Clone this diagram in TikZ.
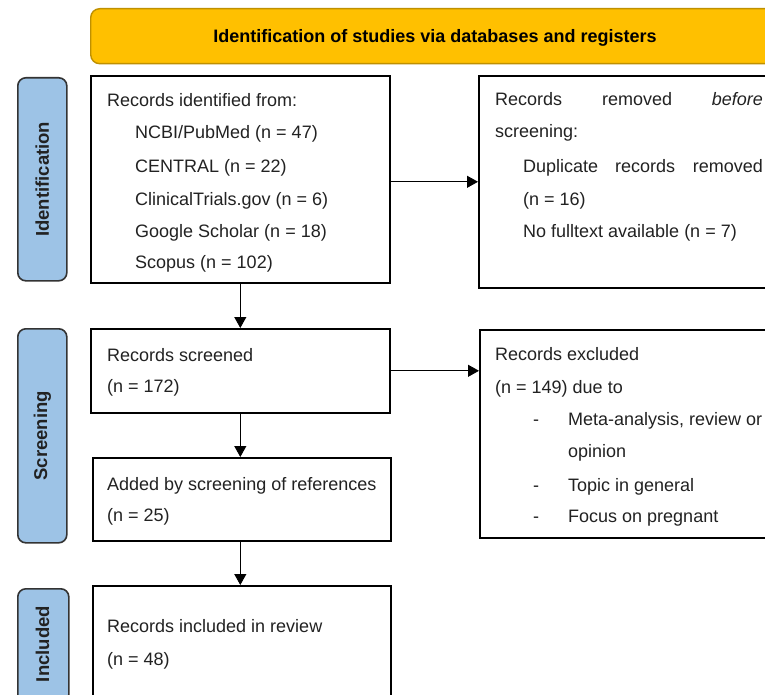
\documentclass[tikz,border=0pt]{standalone}
\usepackage{fontspec}
\setmainfont{Liberation Sans}
\usetikzlibrary{arrows.meta}
\definecolor{bannerfill}{HTML}{FFC000}
\definecolor{bannerline}{HTML}{BF9000}
\definecolor{sideblue}{HTML}{9DC3E6}
\definecolor{sideline}{HTML}{333333}
\definecolor{textgray}{HTML}{222222}
\begin{document}
\begin{tikzpicture}[x=1pt,y=-1pt,
  box/.style={draw=black, line width=1.6pt, fill=white, anchor=north west, inner sep=0pt},
  side/.style={draw=sideline, fill=sideblue, rounded corners=8pt, line width=1.6pt, anchor=north west, inner sep=0pt},
  sidetxt/.style={rotate=90, font=\fontsize{18.5}{20}\selectfont\bfseries, text=textgray, inner sep=0pt},
  txt/.style={anchor=base west, inner sep=0pt, font=\fontsize{18}{20}\selectfont, text=textgray},
  arr/.style={-{Triangle[length=11pt,width=12pt]}, line width=0.9pt, draw=black}
]
\useasboundingbox (0,0) rectangle (765,695);
\clip (0,0) rectangle (765,695);
\fill[white] (0,0) rectangle (765,695);

% banner
\node[draw=bannerline, fill=bannerfill, line width=1.4pt, rounded corners=9pt,
      minimum width=760pt, minimum height=55pt, anchor=north west] (banner) at (90,8) {};
\node[inner sep=0pt, anchor=base, font=\fontsize{18}{20}\selectfont\bfseries, text=black] (bannertxt) at (435,43)
  {Identification of studies via databases and registers};

% side labels
\node[side, minimum width=49pt, minimum height=203pt] (sideid) at (17,77) {};
\node[sidetxt] (sideidtxt) at (sideid.center) {Identification};
\node[side, minimum width=49pt, minimum height=214pt] (sidescr) at (17,328) {};
\node[sidetxt] (sidescrtxt) at (sidescr.center) {Screening};
\node[side, minimum width=51pt, minimum height=114pt] (sideinc) at (17,588) {};
\node[sidetxt] (sideinctxt) at (42.5,644) {Included};

% boxes
\node[box, minimum width=299pt, minimum height=207pt] (ident) at (90,75) {};
\node[box, minimum width=330pt, minimum height=212pt] (removed) at (478,75) {};
\node[box, minimum width=299pt, minimum height=84pt] (screened) at (90,328) {};
\node[box, minimum width=298pt, minimum height=83pt] (added) at (92,457) {};
\node[box, minimum width=330pt, minimum height=208pt] (excluded) at (479,329) {};
\node[box, minimum width=298pt, minimum height=140pt] (included) at (92,585) {};

% texts: identification box
\node[txt] (t1) at (107,107) {Records identified from:};
\node[txt] (t2) at (135,139) {NCBI/PubMed (n = 47)};
\node[txt] (t3) at (135,172) {CENTRAL (n = 22)};
\node[txt] (t4) at (135,205) {ClinicalTrials.gov (n = 6)};
\node[txt] (t5) at (135,237) {Google Scholar (n = 18)};
\node[txt] (t6) at (135,268) {Scopus (n = 102)};

% removed box
\node[txt] (r1a) at (495,106) {Records};
\node[txt] (r1b) at (602,106) {removed};
\node[txt, anchor=base east] (r1c) at (763,106) {\itshape before};
\node[txt] (r2) at (495,138) {screening:};
\node[txt] (r3a) at (523,172) {Duplicate};
\node[txt] (r3b) at (615,172) {records};
\node[txt, anchor=base east] (r3c) at (763,172) {removed};
\node[txt] (r4) at (523,205) {(n = 16)};
\node[txt] (r5) at (523,237) {No fulltext available (n = 7)};

% screened box
\node[txt] (s1) at (107,361) {Records screened};
\node[txt] (s2) at (107,392) {(n = 172)};

% added box
\node[txt] (a1) at (107,490) {Added by screening of references};
\node[txt] (a2) at (107,521) {(n = 25)};

% excluded box
\node[txt] (e1) at (495,360) {Records excluded};
\node[txt] (e2) at (495,393) {(n = 149) due to};
\node[txt] (e3d) at (533,425) {-};
\node[txt] (e3) at (568,425) {Meta-analysis, review or};
\node[txt] (e4) at (568,457) {opinion};
\node[txt] (e5d) at (533,491) {-};
\node[txt] (e5) at (568,491) {Topic in general};
\node[txt] (e6d) at (533,522) {-};
\node[txt] (e6) at (568,522) {Focus on pregnant};

% included box
\node[txt] (i1) at (107,632) {Records included in review};
\node[txt] (i2) at (107,665) {(n = 48)};

% connectors
\draw[arr] (ident.east |- removed.west) -- (removed.west);
\draw[arr] (ident.south) -- (ident.south |- screened.north);
\draw[arr] (screened.east) -- (screened.east -| excluded.west);
\draw[arr] (ident.south |- screened.south) -- (ident.south |- added.north);
\draw[arr] (ident.south |- added.south) -- (ident.south |- included.north);
\end{tikzpicture}
\end{document}
